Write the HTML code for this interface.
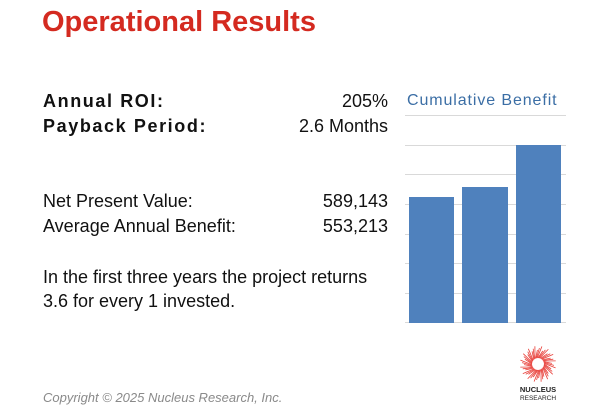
<!DOCTYPE html>
<html><head><style>
body{margin:0;width:607px;height:409px;background:#fff;position:relative;overflow:hidden;font-family:"Liberation Sans",sans-serif;}
.t{position:absolute;white-space:nowrap;color:#111;font-size:18px;}
.r{text-align:right;}
.b{font-weight:bold;letter-spacing:1.6px;}
</style></head><body>
<div class="t" style="left:42px;top:6px;font-size:29px;font-weight:bold;color:#d42a20;">Operational Results</div>
<div class="t b" style="left:43px;top:91px;">Annual ROI:</div>
<div class="t r" style="right:219px;top:91px;">205%</div>
<div class="t b" style="left:43px;top:116px;">Payback Period:</div>
<div class="t r" style="right:219px;top:116px;">2.6 Months</div>
<div class="t" style="left:43px;top:191px;">Net Present Value:</div>
<div class="t r" style="right:219px;top:191px;">589,143</div>
<div class="t" style="left:43px;top:216px;">Average Annual Benefit:</div>
<div class="t r" style="right:219px;top:216px;">553,213</div>
<div class="t" style="left:43px;top:265px;line-height:24px;">In the first three years the project returns<br>3.6 for every 1 invested.</div>
<div class="t" style="left:407px;top:92px;font-size:16px;letter-spacing:0.9px;color:#3b6ea5;">Cumulative Benefit</div>
<svg style="position:absolute;left:0;top:0" width="607" height="409">
<g stroke="#d9d9d9" stroke-width="1">
<line x1="405" x2="566" y1="115.5" y2="115.5"/>
<line x1="405" x2="566" y1="145.5" y2="145.5"/>
<line x1="405" x2="566" y1="174.5" y2="174.5"/>
<line x1="405" x2="566" y1="204.5" y2="204.5"/>
<line x1="405" x2="566" y1="234.5" y2="234.5"/>
<line x1="405" x2="566" y1="263.5" y2="263.5"/>
<line x1="405" x2="566" y1="293.5" y2="293.5"/>
<line x1="405" x2="566" y1="322.5" y2="322.5"/>
</g>
<rect x="409" y="197" width="45" height="126" fill="#4f81bd"/>
<rect x="462" y="187" width="46" height="136" fill="#4f81bd"/>
<rect x="516" y="145" width="45" height="178" fill="#4f81bd"/>
<g stroke="#e8403a" stroke-width="0.8" id="sun"></g>
<text x="538" y="392" font-size="7.5" font-weight="bold" text-anchor="middle" fill="#222" font-family="Liberation Sans">NUCLEUS</text>
<text x="538" y="400" font-size="6.5" text-anchor="middle" fill="#222" font-family="Liberation Sans">RESEARCH</text>
</svg>
<div class="t" style="left:43px;top:390px;font-size:13px;font-style:italic;color:#8a8a8a;">Copyright © 2025 Nucleus Research, Inc.</div>
<script>
var g=document.getElementById('sun'),s='';
for(var i=0;i<48;i++){var a=i*Math.PI*2/48,b=a+0.35,r1=6,r2=14+(i%3)*2;
s+='<line x1="'+(538+r1*Math.cos(a))+'" y1="'+(364+r1*Math.sin(a))+'" x2="'+(538+r2*Math.cos(b))+'" y2="'+(364+r2*Math.sin(b))+'"/>';}
g.innerHTML=s;
</script>
</body></html>
